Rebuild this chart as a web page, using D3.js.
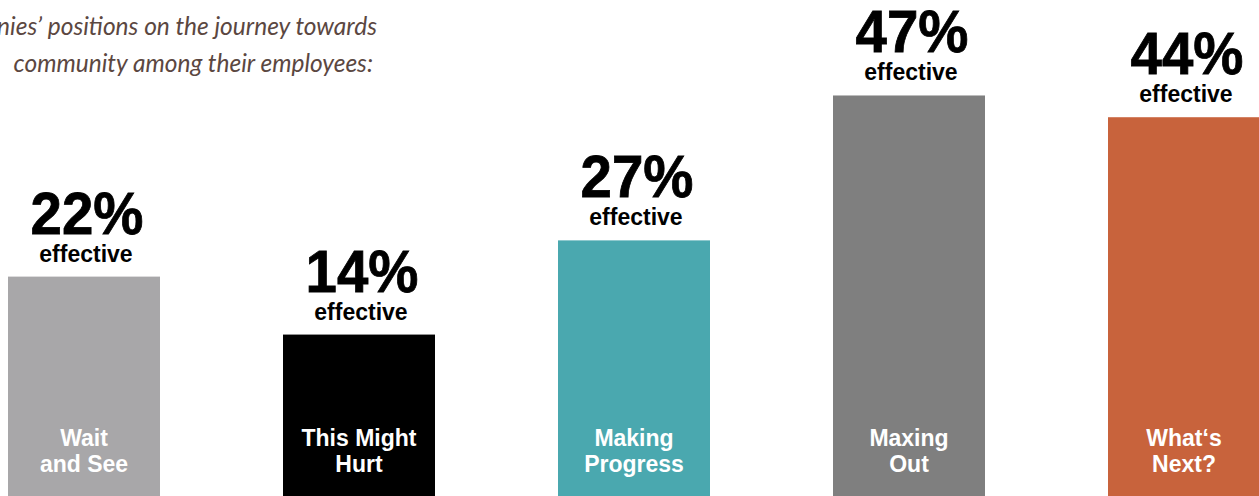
<!DOCTYPE html>
<html>
<head>
<meta charset="utf-8">
<script src="https://cdn.jsdelivr.net/npm/d3@7"></script>
<style>
  html, body { margin: 0; padding: 0; background: #fff; }
  svg { display: block; }
</style>
</head>
<body>
<svg id="chart" width="1259" height="496"></svg>
<script>
// ---- data ----
const categories = ["Wait|and See", "This Might|Hurt", "Making|Progress", "Maxing|Out", "What‘s|Next?"];
const values = [22, 14, 27, 47, 44];
const barColors = ["#a8a7a9", "#000000", "#4aa8af", "#7f7f7f", "#c8633c"];
const valueSuffix = "%";
const subLabel = "effective";
const titleLines = ["nies’ positions on the journey towards", "community among their employees:"];

// ---- layout ----
const W = 1259, H = 496;
const svg = d3.select("#chart");

const x = d3.scaleBand()
  .domain(d3.range(categories.length))
  .range([8 - 123 / 2, 8 + 275 * 5 - 123 / 2])
  .paddingInner(123 / 275)
  .paddingOuter(123 / 275 / 2);

// baseline (zero) sits below the visible area; bars run off the bottom
const y = d3.scaleLinear().domain([0, 60]).range([436, 436 - 60 * 7.245]);

const g = svg.append("g");

// title (cut at the left edge like the reference)
svg.append("g").selectAll("text").data(titleLines).join("text")
  .attr("x", (d, i) => i === 0 ? 377 : 373)
  .attr("y", (d, i) => 35 + i * 37)
  .attr("text-anchor", "end")
  .attr("font-family", "Lato, 'Open Sans', sans-serif")
  .attr("font-style", "italic")
  .attr("font-size", 24.5)
  .attr("fill", "#5b4741")
  .text(d => d);

// bars
g.selectAll("rect").data(values).join("rect")
  .attr("x", (d, i) => x(i))
  .attr("y", d => y(d))
  .attr("width", x.bandwidth())
  .attr("height", d => H - y(d) + 5)
  .attr("fill", (d, i) => barColors[i]);

// value labels
g.selectAll("text.val").data(values).join("text")
  .attr("class", "val")
  .attr("transform", (d, i) => `translate(${x(i) + x.bandwidth() / 2 + 3},${y(d) - 43}) scale(0.94,1)`)
  .attr("text-anchor", "middle")
  .attr("font-family", "'Liberation Sans', Arial, sans-serif")
  .attr("font-weight", 700)
  .attr("font-size", 60)
  .attr("fill", "#000")
  .attr("stroke", "#000")
  .attr("stroke-width", 0.8)
  .text(d => d + valueSuffix);

g.selectAll("text.sub").data(values).join("text")
  .attr("class", "sub")
  .attr("x", (d, i) => x(i) + x.bandwidth() / 2 + 2)
  .attr("y", d => y(d) - 15)
  .attr("text-anchor", "middle")
  .attr("font-family", "'Liberation Sans', Arial, sans-serif")
  .attr("font-weight", 700)
  .attr("font-size", 23)
  .attr("fill", "#000")
  .text(subLabel);

// category labels inside bars
const cat = g.selectAll("text.cat").data(categories).join("text")
  .attr("class", "cat")
  .attr("text-anchor", "middle")
  .attr("font-family", "'Liberation Sans', Arial, sans-serif")
  .attr("font-weight", 700)
  .attr("font-size", 23)
  .attr("fill", "#fff");
cat.selectAll("tspan").data((d, i) => d.split("|").map(t => ({ t, i }))).join("tspan")
  .attr("x", d => x(d.i) + x.bandwidth() / 2)
  .attr("y", (d, j) => 446 + j * 26)
  .text(d => d.t);
</script>
</body>
</html>
